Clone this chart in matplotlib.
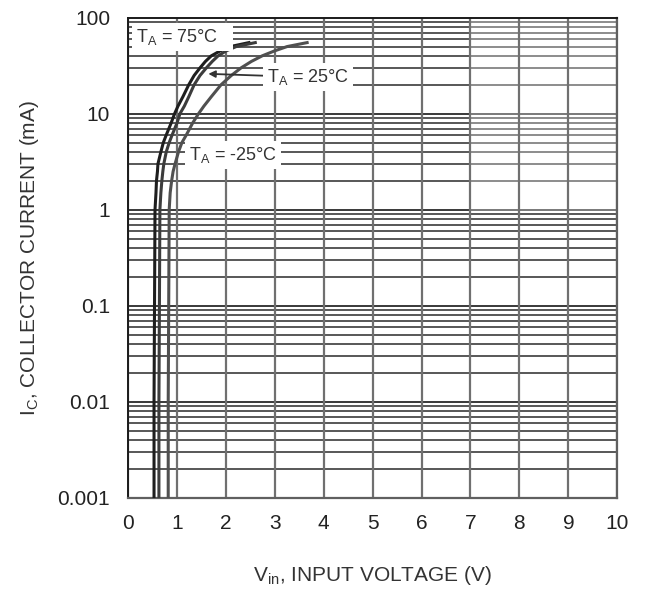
import numpy as np
import matplotlib.pyplot as plt
from matplotlib.ticker import FixedLocator, FixedFormatter, NullLocator

plt.rcParams['font.family'] = ['Liberation Sans', 'DejaVu Sans']

# collector current (mA) and input voltage (V)
ic = [0.001, 0.01, 0.1, 1, 1.5, 2, 2.5, 3, 4, 5, 6, 8, 10, 12, 15,
      20, 25, 30, 35, 40, 45, 50, 55]
vin_75 = [0.53, 0.53, 0.54, 0.55, 0.57, 0.58, 0.60, 0.61, 0.67, 0.72, 0.78, 0.88,
          0.95, 1.02, 1.12, 1.24, 1.35, 1.47, 1.58, 1.70, 1.88, 2.09, 2.47]
vin_25 = [0.63, 0.63, 0.64, 0.65, 0.67, 0.69, 0.71, 0.73, 0.78, 0.84, 0.90, 1.00,
          1.06, 1.15, 1.24, 1.35, 1.47, 1.60, 1.72, 1.84, 2.00, 2.21, 2.60]
vin_m25 = [0.82, 0.82, 0.83, 0.84, 0.86, 0.89, 0.92, 0.96, 1.03, 1.10, 1.19, 1.32,
           1.44, 1.55, 1.70, 1.90, 2.11, 2.31, 2.52, 2.74, 2.99, 3.25, 3.66]

xticks = [0, 1, 2, 3, 4, 5, 6, 7, 8, 9, 10]
yticks = [0.001, 0.01, 0.1, 1, 10, 100]
ylabels = ['0.001', '0.01', '0.1', '1', '10', '100']

fig = plt.figure(figsize=(6.47, 5.89), dpi=100)
ax = fig.add_axes([0.198, 0.155, 0.756, 0.815])

ax.set_yscale('log')
ax.set_xlim(0, 10)
ax.set_ylim(0.001, 100)

ax.xaxis.set_major_locator(FixedLocator(xticks))
ax.yaxis.set_major_locator(FixedLocator(yticks))
ax.yaxis.set_major_formatter(FixedFormatter(ylabels))
ax.yaxis.set_minor_locator(NullLocator())
ax.tick_params(which='both', length=0, labelsize=15)
ax.tick_params(axis='y', pad=13)
ax.tick_params(axis='x', pad=12)

# log grid: 1..9 in every decade; upper two decades fade to grey on the right
ax.grid(which='major', axis='x', color='#707070', lw=1.6, zorder=0)
for e in range(-3, 2):
    for m in range(1, 10):
        yv = m * 10.0 ** e
        lw = 1.3 if m == 1 else 1.1
        if e >= 0:
            ax.hlines(yv, 0, 7, color='#2a2a2a', lw=lw, zorder=1)
            ax.hlines(yv, 7, 10, color='#6e6e6e', lw=lw, zorder=1)
        else:
            ax.hlines(yv, 0, 10, color='#2a2a2a', lw=lw, zorder=1)

for side in ['left', 'top']:
    ax.spines[side].set_color('#1a1a1a')
    ax.spines[side].set_linewidth(1.4)
for side in ['right', 'bottom']:
    ax.spines[side].set_color('#606060')
    ax.spines[side].set_linewidth(1.6)

ax.plot(vin_75, ic, color='#1e1e1e', lw=2.2, zorder=3)
ax.plot(vin_25, ic, color='#3c3c3c', lw=2.2, zorder=3)
ax.plot(vin_m25, ic, color='#505050', lw=2.2, zorder=3)

box = dict(facecolor='white', edgecolor='none', pad=3)
ax.text(0.17, 63, r'T$_\mathregular{A}$ = 75°C' + '   ', fontsize=13, color='#333333',
        va='center', ha='left', bbox=box, zorder=4)
ax.annotate(r'T$_\mathregular{A}$ = 25°C', xy=(1.64, 26), xytext=(2.84, 24),
            fontsize=13, color='#333333', va='center', ha='left', bbox=box,
            arrowprops=dict(arrowstyle='-|>', color='#333333', lw=1.3,
                            shrinkA=0, shrinkB=0, mutation_scale=10),
            zorder=4)
ax.text(1.25, 3.7, r'T$_\mathregular{A}$ = -25°C', fontsize=13, color='#333333',
        va='center', ha='left', bbox=box, zorder=4)

ax.set_xlabel(r'V$_\mathregular{in}$, INPUT VOLTAGE (V)', fontsize=15, labelpad=22,
              color='#333333')
ax.set_ylabel(r'I$_\mathregular{C}$, COLLECTOR CURRENT (mA)', fontsize=15, labelpad=12,
              color='#333333')
for lbl in ax.get_xticklabels() + ax.get_yticklabels():
    lbl.set_color('#222222')

fig.savefig('out.png', dpi=100)
